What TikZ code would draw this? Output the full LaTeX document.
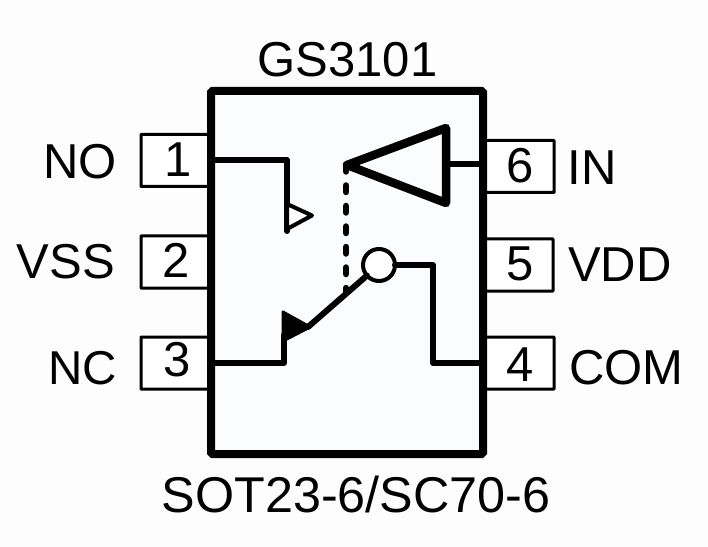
\documentclass[tikz,border=0pt]{standalone}
\usepackage{fontspec}
\setmainfont{Liberation Sans}
\usetikzlibrary{calc}
\definecolor{bgc}{HTML}{FBFCFD}
\definecolor{outc}{HTML}{FDFDFE}
\tikzset{x=1bp,y=-1bp,
 pinbox/.style={draw=black,line width=3bp,fill=white,inner sep=0pt,outer sep=0pt,rounded corners=0.5bp,minimum width=70bp,minimum height=52bp},
 lab/.style={font=\fontsize{49bp}{49bp}\selectfont,inner sep=0pt,outer sep=0pt,text=black},
 wire/.style={draw=black,line width=6bp,line join=round,line cap=round},
 pkg/.style={draw=black,line width=8bp,fill=bgc,inner sep=0pt,outer sep=0pt,rounded corners=1.5bp,minimum width=272bp,minimum height=363bp}}
\begin{document}
\begin{tikzpicture}
\useasboundingbox (0,0) rectangle (708,547);
\fill[outc] (0,0) rectangle (708,547);
% pin boxes
\node[pinbox] (p1) at (176,160.5) {};
\node[pinbox] (p2) at (176,262) {};
\node[pinbox] (p3) at (176,363) {};
\node[pinbox] (p6) at (519,166.5) {};
\node[pinbox,minimum height=52bp] (p5) at (518,265) {};
\node[pinbox] (p4) at (519,363) {};
% package
\node[pkg] (pk) at (347,272.5) {};
% pin numbers
\node[lab] (n1) at (178,160) {1};
\node[lab] (n2) at (176,260) {2};
\node[lab] (n3) at (177,360) {3};
\node[lab] (n6) at (520,166) {6};
\node[lab] (n5) at (520,264) {5};
\node[lab] (n4) at (520,365) {4};
% pin names
\node[lab] (tno) at (80,162) {NO};
\node[lab] (tvss) at (66,262) {VSS};
\node[lab,font=\fontsize{47.5bp}{48bp}\selectfont] (tnc) at (82.5,368) {NC};
\node[lab] (tin) at (592,168) {IN};
\node[lab] (tvdd) at (620,265) {VDD};
\node[lab] (tcom) at (626.5,368) {COM};
\node[lab] (title) at (347.5,60) {GS3101};
\node[lab,font=\fontsize{50.3bp}{50bp}\selectfont] (sub) at (356,495) {SOT23-6/SC70-6};
% anchors
\coordinate (a1) at (p1.east |- 0,160);
\coordinate (a3) at (p3.east |- 0,363);
\coordinate (a6) at (pk.east |- 0,164);
\coordinate (a4) at (pk.east |- 0,363);
\coordinate (no1) at (287,160);
\coordinate (no2) at (287,231);
\coordinate (nc1) at (284,363);
\coordinate (nc2) at (284,335);
\coordinate (arm) at (308,327);
\coordinate (com1) at (433,265);
\coordinate (com2) at (433,363);
% dashed control line (behind the arm)
\coordinate (dtop) at (346,165);
\coordinate (dbot) at (346,292);
\draw[black,line width=6.5bp,line cap=round,dash pattern=on 6.5bp off 14bp] (dtop) -- (dbot);
% wires
\draw[wire] (a1) -- (no1) -- (no2);
\draw[wire] (a3) -- (nc1) -- (nc2);
% NO open triangle
\coordinate (oa) at (287,204);
\coordinate (ob) at (312,215.5);
\coordinate (oc) at (287,229);
\draw[black,line width=4bp,line join=round,fill=white] (oa) -- (ob) -- (oc) -- cycle;
% NC filled triangle
\coordinate (fa) at (283,312);
\coordinate (fb) at (310,327);
\coordinate (fc) at (283,341);
\draw[black,line width=3bp,line join=round,fill=black] (fa) -- (fb) -- (fc) -- cycle;
% buffer
\coordinate (ba) at (347,165);
\coordinate (bb) at (446,128);
\coordinate (bc) at (446,203);
\draw[wire] (bb |- a6) -- (a6);
\draw[black,line width=8.5bp,line join=round,fill=bgc] (ba) -- (bb) -- (bc) -- cycle;
% switch
\node[draw=black,line width=4bp,fill=white,circle,minimum size=32bp,inner sep=0pt,outer sep=0pt] (sw) at (379,265) {};
\draw[wire] (arm) -- (sw);
\draw[wire] (sw.east |- com1) -- (com1) -- (com2) -- (a4);
\end{tikzpicture}
\end{document}
